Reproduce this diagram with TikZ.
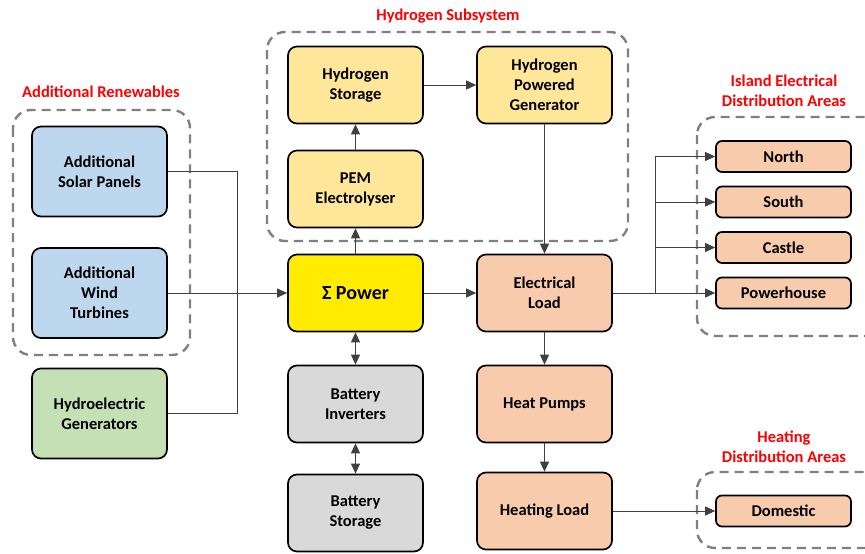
\documentclass[tikz,border=0pt]{standalone}
\usepackage{fontspec}
\setmainfont{Carlito}
\usetikzlibrary{arrows.meta}
\definecolor{solarblue}{RGB}{189,215,238}
\definecolor{hydrogreen}{RGB}{197,224,180}
\definecolor{hydrogenorange}{RGB}{255,230,153}
\definecolor{sumyellow}{RGB}{255,236,0}
\definecolor{battgray}{RGB}{217,217,217}
\definecolor{loadsalmon}{RGB}{248,203,173}
\definecolor{groupgray}{RGB}{128,128,128}
\definecolor{linegray}{RGB}{64,64,64}
\tikzset{
  block/.style={draw=black,line width=1.7pt,rounded corners=9pt,align=center,
    minimum width=135pt,minimum height=77pt,font=\bfseries\fontsize{16.5}{20}\selectfont},
  source/.style={block,minimum height=90pt},
  area/.style={draw=black,line width=1.7pt,rounded corners=6pt,fill=loadsalmon,
    minimum width=135pt,minimum height=31pt,font=\bfseries\fontsize{16.5}{20}\selectfont},
  group/.style={draw=groupgray,line width=2.4pt,dash pattern=on 9pt off 6pt,rounded corners=18pt},
  grouplabel/.style={text=red,align=center,font=\bfseries\fontsize{16.5}{20}\selectfont},
  flow/.style={draw=linegray,line width=0.9pt,-{Triangle[length=10pt,width=9pt]}},
  both/.style={draw=linegray,line width=0.9pt,{Triangle[length=10pt,width=9pt]}-{Triangle[length=10pt,width=9pt]}},
  wire/.style={draw=linegray,line width=0.9pt}
}
\begin{document}
\begin{tikzpicture}[x=1pt,y=-1pt]
\clip (0,0) rectangle (865,554);
% dashed groups
\draw[group] (13,110) rectangle (190,355);
\draw[group] (267,32) rectangle (628,241);
\draw[group] (697,117) rectangle (890,336);
\draw[group] (697,472) rectangle (890,548);
\node[grouplabel] (renlabel) at (101,92) {Additional Renewables};
\node[grouplabel] (h2label) at (448,16) {Hydrogen Subsystem};
\node[grouplabel] (islandlabel) at (784,91) {Island Electrical\\Distribution Areas};
\node[grouplabel] (heatlabel) at (784,447) {Heating\\Distribution Areas};
% sources
\node[source,fill=solarblue] (solar) at (99.5,171.5) {Additional\\Solar Panels};
\node[source,fill=solarblue] (wind) at (99.5,293) {Additional\\Wind\\Turbines};
\node[source,fill=hydrogreen] (hydro) at (99.5,413.5) {Hydroelectric\\Generators};
% centre
\node[block,fill=hydrogenorange] (h2store) at (355.5,85) {Hydrogen\\Storage};
\node[block,fill=hydrogenorange] (h2gen) at (544.5,85) {Hydrogen\\Powered\\Generator};
\node[block,fill=hydrogenorange] (pem) at (355.5,189) {PEM\\Electrolyser};
\node[block,fill=sumyellow,font=\bfseries\fontsize{20}{24}\selectfont] (power) at (355.5,293) {Σ Power};
\node[block,fill=battgray] (batinv) at (355.5,404) {Battery\\Inverters};
\node[block,fill=battgray] (batsto) at (355.5,513) {Battery\\Storage};
\node[block,fill=loadsalmon] (eload) at (544.5,293) {Electrical\\Load};
\node[block,fill=loadsalmon] (heatpump) at (544.5,404) {Heat Pumps};
\node[block,fill=loadsalmon] (hload) at (544.5,511) {Heating Load};
% areas
\node[area] (north) at (783.5,156.5) {North};
\node[area] (south) at (783.5,202) {South};
\node[area] (castle) at (783.5,247.5) {Castle};
\node[area] (powerhouse) at (783.5,293) {Powerhouse};
\node[area] (domestic) at (783.5,511) {Domestic};
% connectors
\coordinate (renbus) at (237,293);
\coordinate (elbus) at (655,293);
\draw[wire] (solar.east) -| (renbus);
\draw[wire] (hydro.east) -| (renbus);
\draw[flow] (wind.east) -- (power.west);
\draw[flow] (power) -- (pem);
\draw[flow] (pem) -- (h2store);
\draw[flow] (h2store) -- (h2gen);
\draw[flow] (h2gen) -- (eload);
\draw[flow] (power) -- (eload);
\draw[both] (power) -- (batinv);
\draw[both] (batinv) -- (batsto);
\draw[flow] (eload) -- (heatpump);
\draw[flow] (heatpump) -- (hload);
\draw[wire] (eload.east) -- (elbus);
\draw[flow] (elbus) |- (north.west);
\draw[flow] (elbus) |- (south.west);
\draw[flow] (elbus) |- (castle.west);
\draw[flow] (elbus) -- (powerhouse.west);
\draw[flow] (hload.east) -- (domestic.west);
\end{tikzpicture}
\end{document}
